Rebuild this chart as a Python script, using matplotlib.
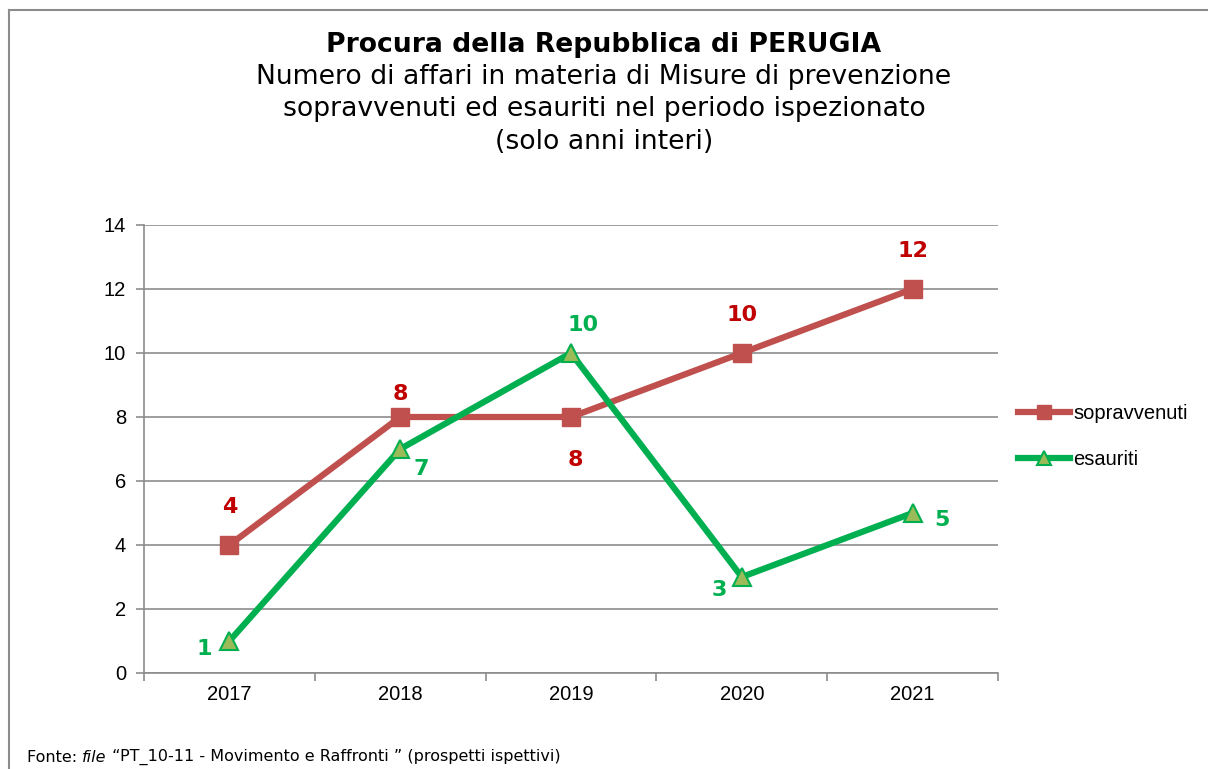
import matplotlib
matplotlib.use("Agg")
import matplotlib.pyplot as plt
from matplotlib.lines import Line2D

years = ["2017", "2018", "2019", "2020", "2021"]
sopravvenuti = [4, 8, 8, 10, 12]
esauriti = [1, 7, 10, 3, 5]
yticks = [0, 2, 4, 6, 8, 10, 12, 14]

W, H = 1208, 769
fig = plt.figure(figsize=(W / 100, H / 100), dpi=100)
fig.patch.set_facecolor("white")

# outer border (left + top)
fig.add_artist(Line2D([9 / W, 9 / W], [0, 1 - 10 / H], transform=fig.transFigure, color="#8c8c8c", lw=1.5))
fig.add_artist(Line2D([9 / W, 1], [1 - 10 / H, 1 - 10 / H], transform=fig.transFigure, color="#8c8c8c", lw=1.5))

ax = fig.add_axes([144 / W, 1 - 673 / H, (998 - 144) / W, (673 - 225) / H])
x = list(range(len(years)))
ax.set_xlim(-0.5, len(years) - 0.5)
ax.set_ylim(0, 14)
ax.set_yticks(yticks)
ax.set_yticklabels([str(v) for v in yticks], fontsize=14.5, family="Liberation Sans")
ax.set_xticks(x)
ax.set_xticklabels(years, fontsize=14.5, family="Liberation Sans")
ax.tick_params(axis="x", length=0, pad=9)
ax.tick_params(axis="y", length=6, color="#8c8c8c", width=1.2, pad=7, direction="out")
# minor ticks at category boundaries
ax.set_xticks([i - 0.5 for i in range(len(years) + 1)], minor=True)
ax.tick_params(axis="x", which="minor", length=6, color="#8c8c8c", width=1.2, direction="out")
ax.grid(axis="y", color="#8c8c8c", lw=1.2)
ax.set_axisbelow(True)
for s in ["top", "right"]:
    ax.spines[s].set_visible(False)
for s in ["left", "bottom"]:
    ax.spines[s].set_color("#8c8c8c")
    ax.spines[s].set_linewidth(1.2)

red_line = "#C0504D"
green_line = "#00B050"
ax.plot(x, sopravvenuti, color=red_line, lw=4.5, marker="s", ms=13, mfc=red_line, mec=red_line,
        label="sopravvenuti", zorder=3)
ax.plot(x, esauriti, color=green_line, lw=4.5, marker="^", ms=13, mfc="#9BBB59", mec=green_line, mew=1.5,
        label="esauriti", zorder=4)

red_txt = "#C00000"
green_txt = "#00B050"
lab_kw = dict(fontsize=16, fontweight="bold", ha="center", va="center", family="DejaVu Sans")
s_off = [(0, 38), (0, 23), (4, -43), (0, 38), (0, 38)]
e_off = [(-25, -8), (21, -20), (12, 28), (-23, -13), (29, -7)]
for i in x:
    ax.annotate(str(sopravvenuti[i]), (i, sopravvenuti[i]), xytext=s_off[i], textcoords="offset pixels",
                color=red_txt, **lab_kw)
    ax.annotate(str(esauriti[i]), (i, esauriti[i]), xytext=e_off[i], textcoords="offset pixels",
                color=green_txt, **lab_kw)

leg = fig.legend(loc="upper left", bbox_to_anchor=(1000 / W, 1 - 386 / H), frameon=False,
                 prop={"family": "Liberation Sans", "size": 14.5}, handlelength=2.6, handletextpad=0.15,
                 labelspacing=1.35, markerscale=0.75)

# titles
fig.text(0.5, 1 - 45 / H, "Procura della Repubblica di PERUGIA", ha="center", va="center",
         fontsize=19.2, fontweight="bold", family="DejaVu Sans")
for t, yy in [("Numero di affari in materia di Misure di prevenzione", 77),
              ("sopravvenuti ed esauriti nel periodo ispezionato", 109),
              ("(solo anni interi)", 142)]:
    fig.text(0.5, 1 - yy / H, t, ha="center", va="center", fontsize=19.2, family="DejaVu Sans")

# footer with italic "file"
fig.canvas.draw()
r = fig.canvas.get_renderer()
fx = 27 / W
fy = 1 - 757 / H
parts = [("Fonte: ", "normal"), ("file", "italic"), (" \u201cPT_10-11 - Movimento e Raffronti \u201d (prospetti ispettivi)", "normal")]
for txt, style in parts:
    t = fig.text(fx, fy, txt, ha="left", va="center", fontsize=11.5, style=style, family="DejaVu Sans")
    bb = t.get_window_extent(renderer=r)
    fx += bb.width / W

fig.savefig("out.png", dpi=100)
